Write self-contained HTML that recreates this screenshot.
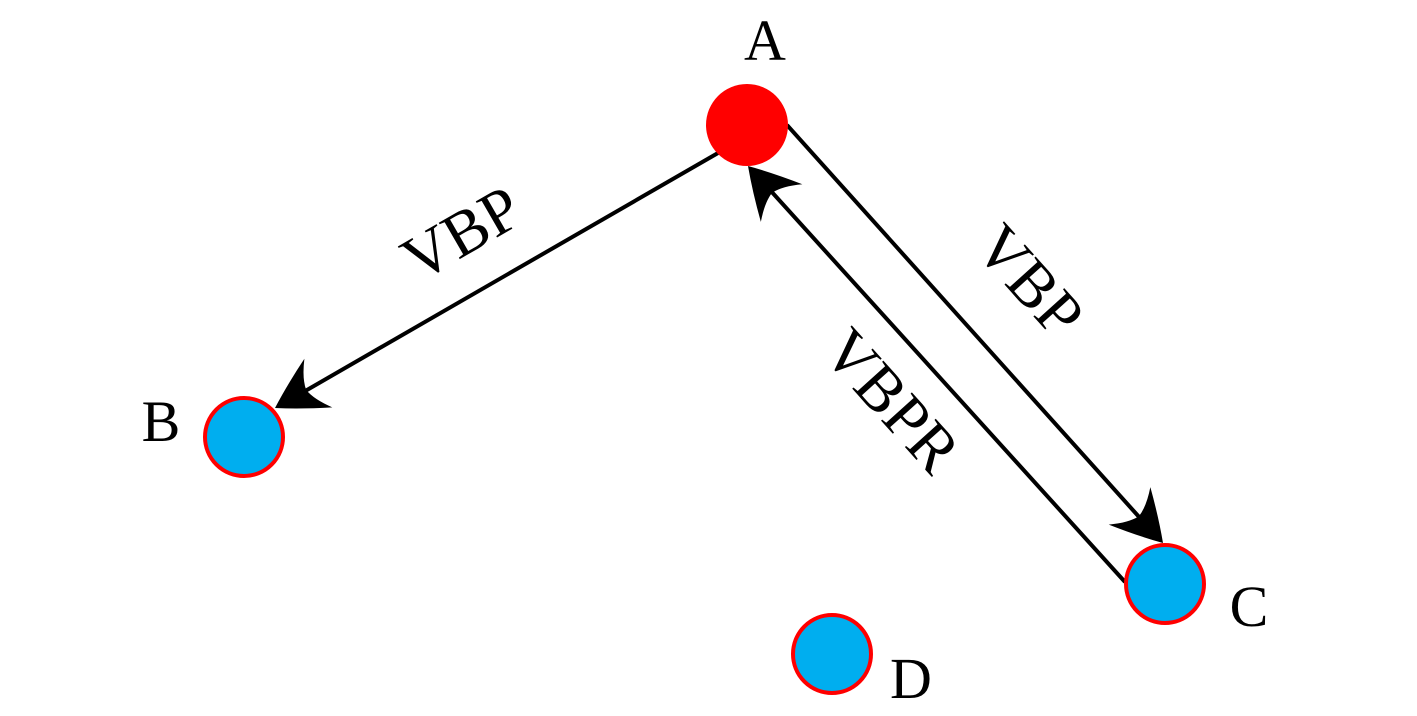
<!DOCTYPE html>
<html><head><meta charset="utf-8"><style>html,body{margin:0;padding:0;background:#fff;}svg{display:block}</style></head>
<body>
<svg width="1417" height="716" viewBox="0 0 1417 716" xmlns="http://www.w3.org/2000/svg">
<defs>
<path id="ah" d="M0,0 Q-22,-14 -50,-28 Q-38,-12 -36,0 Q-38,12 -50,28 Q-22,14 0,0 Z" fill="#000"/>
</defs>
<g stroke="#000" stroke-width="4" fill="none">
<line x1="718" y1="153" x2="300" y2="394"/>
<line x1="787" y1="125" x2="1140" y2="518"/>
<line x1="1125" y1="582" x2="770" y2="190"/>
</g>
<use href="#ah" transform="translate(275,408) rotate(150.1)"/>
<use href="#ah" transform="translate(1163,543) rotate(48)"/>
<use href="#ah" transform="translate(748,166) rotate(-132.2)"/>
<circle cx="747" cy="125" r="41" fill="#ff0000"/>
<circle cx="244" cy="437" r="39" fill="#00aeef" stroke="#ff0000" stroke-width="4"/>
<circle cx="1165" cy="584" r="39" fill="#00aeef" stroke="#ff0000" stroke-width="4"/>
<circle cx="832" cy="654" r="39" fill="#00aeef" stroke="#ff0000" stroke-width="4"/>
<g font-family="Liberation Serif, serif" font-size="58" fill="#000" text-anchor="middle">
<text x="765" y="60">A</text>
<text x="161" y="441">B</text>
<text x="1249" y="626">C</text>
<text x="911" y="698">D</text>
</g>
<g font-family="Liberation Serif, serif" font-size="64" fill="#000" text-anchor="middle">
<text transform="translate(472,252) rotate(-30)">VBP</text>
<text transform="translate(1014,295) rotate(48)">VBP</text>
<text transform="translate(876,415) rotate(48)">VBPR</text>
</g>
</svg>
</body></html>
